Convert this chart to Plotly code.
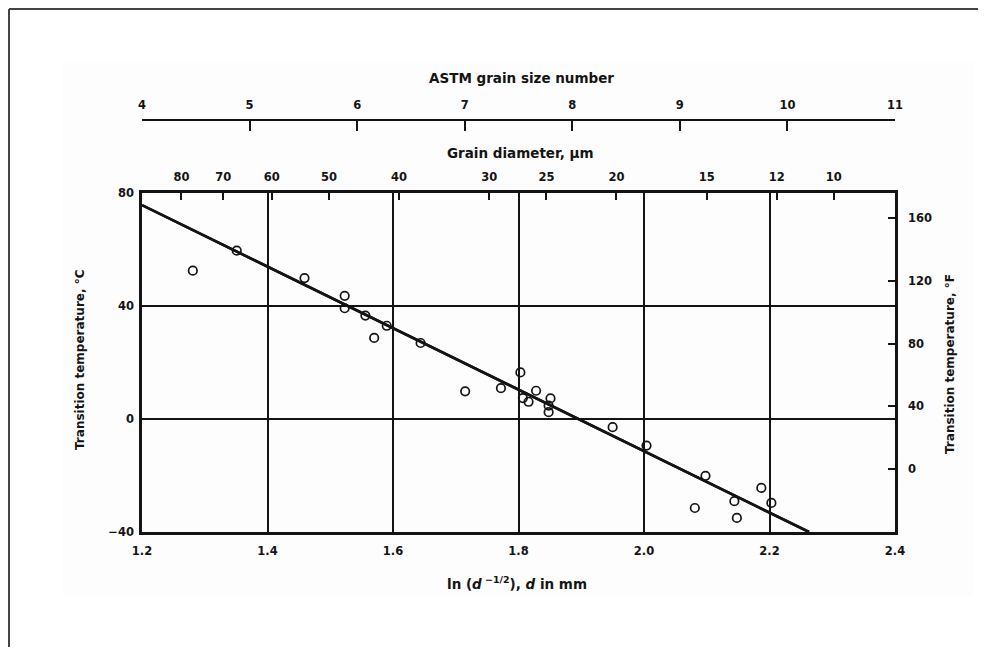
import numpy as np
import plotly.graph_objects as go

# ---- data ----
ln_d = [1.281, 1.351, 1.459, 1.523, 1.523, 1.556, 1.570, 1.590, 1.644, 1.715,
        1.772, 1.803, 1.807, 1.816, 1.828, 1.851, 1.848, 1.848, 1.950, 2.004,
        2.081, 2.098, 2.144, 2.148, 2.187, 2.203]
temp_c = [52.5, 59.6, 49.9, 43.6, 39.2, 36.6, 28.7, 33.0, 26.9, 9.8,
          10.9, 16.5, 7.4, 6.1, 10.0, 7.3, 4.7, 2.4, -2.9, -9.4,
          -31.5, -20.1, -29.1, -35.0, -24.4, -29.7]
fit_x = [1.2, 2.263]
fit_c = [75.7, -40.0]

x_ticks = [1.2, 1.4, 1.6, 1.8, 2.0, 2.2, 2.4]
c_ticks = [-40, 0, 40, 80]
f_ticks = [0, 40, 80, 120, 160]
diam_um = [80, 70, 60, 50, 40, 30, 25, 20, 15, 12, 10]
astm = [4, 5, 6, 7, 8, 9, 10, 11]

c_range = [-40, 80]
f_range = [c * 1.8 + 32 for c in c_range]
diam_pos = [-0.5 * np.log(d / 1000.0) for d in diam_um]
fit_f = [c * 1.8 + 32 for c in fit_c]

FONT = "DejaVu Sans, Liberation Sans, Arial"
INK = "#141414"
tick_font = dict(family=FONT, size=11.5, color=INK, weight=700)
title_font = dict(family=FONT, size=13.5, color=INK, weight=700)
ytitle_font = dict(family=FONT, size=12, color=INK, weight=700)

fig = go.Figure()
fig.add_trace(go.Scatter(x=fit_x, y=fit_c, mode="lines",
                         line=dict(color=INK, width=2.6),
                         showlegend=False, hoverinfo="skip"))
fig.add_trace(go.Scatter(x=ln_d, y=temp_c, mode="markers",
                         marker=dict(symbol="circle-open", size=8.5,
                                     color=INK, line=dict(width=1.7)),
                         showlegend=False))
# same fit line expressed in °F on the secondary axes (keeps them drawn)
fig.add_trace(go.Scatter(x=fit_x, y=fit_f, mode="lines", xaxis="x2", yaxis="y2",
                         line=dict(color=INK, width=2.6),
                         showlegend=False, hoverinfo="skip"))
# empty trace so the ASTM scale is drawn
fig.add_trace(go.Scatter(x=astm, y=[None] * len(astm), mode="markers",
                         xaxis="x3", yaxis="y", showlegend=False,
                         hoverinfo="skip"))

# page body adds an 8px offset; plot area is wanted at x 142..895, y 120..532
OFF = 8
W, H = 970, 639
ml, mt = 142 - OFF, 120 - OFF
mr = OFF + W - 895
mb = OFF + H - 532
PX0, PX1, PY0, PY1 = 142, 895, 120, 532
top_main = (PY1 - 193) / (PY1 - PY0)


def px(x):
    return (x - PX0) / (PX1 - PX0)


def py(y):
    return (PY1 - y) / (PY1 - PY0)


fig.update_layout(
    width=W, height=H,
    margin=dict(l=ml, r=mr, t=mt, b=mb, autoexpand=False),
    paper_bgcolor="white", plot_bgcolor="rgba(0,0,0,0)",
    xaxis=dict(range=[1.2, 2.4], tickvals=x_ticks,
               ticktext=[f"{v:.1f}" for v in x_ticks],
               showgrid=True, gridcolor=INK, gridwidth=2,
               showline=True, linecolor=INK, linewidth=2.6, mirror=True,
               zeroline=False, ticks="", tickfont=tick_font,
               ticklabelstandoff=6),
    yaxis=dict(range=c_range, domain=[0, top_main], tickvals=c_ticks,
               showgrid=True, gridcolor=INK, gridwidth=2,
               showline=True, linecolor=INK, linewidth=2.6, mirror=True,
               zeroline=False, ticks="", tickfont=tick_font,
               ticklabelstandoff=3),
    yaxis2=dict(range=f_range, overlaying="y", side="right", anchor="x",
                tickvals=f_ticks, showgrid=False, zeroline=False,
                ticks="inside", ticklen=7, tickwidth=1.7, tickcolor=INK,
                showline=False, tickfont=tick_font, ticklabelstandoff=12),
    xaxis2=dict(range=[1.2, 2.4], overlaying="x", side="top", anchor="y",
                tickvals=diam_pos, ticktext=[str(d) for d in diam_um],
                showgrid=False, zeroline=False, showline=False,
                ticks="inside", ticklen=7, tickwidth=1.7, tickcolor=INK,
                tickfont=tick_font, ticklabelstandoff=9),
    xaxis3=dict(range=[4, 11], overlaying="x", side="top", anchor="free",
                position=1, tickvals=astm, showgrid=False, zeroline=False,
                showline=True, linecolor=INK, linewidth=2.2,
                ticks="inside", ticklen=10, tickwidth=1.8, tickcolor=INK,
                tickfont=tick_font, ticklabelstandoff=5),
)

titles = [
    ("ASTM grain size number", 521, 78, 0, title_font),
    ("Grain diameter, μm", 520, 153, 0, title_font),
    ("ln (<i>d</i><sup> −1/2</sup>), <i>d</i> in mm", 517, 583, 0, title_font),
    ("Transition temperature, °C", 80, 360, -90, ytitle_font),
    ("Transition temperature, °F", 950, 364, -90, ytitle_font),
]
for text, ax, ay, ang, fnt in titles:
    fig.add_annotation(text=text, xref="paper", yref="paper",
                       x=px(ax), y=py(ay), xanchor="center", yanchor="middle",
                       textangle=ang, showarrow=False, font=fnt)

# very faint scanned-page panel behind the figure
fig.add_shape(type="rect", xref="paper", yref="paper", layer="below",
              x0=px(63), x1=px(973), y0=py(597), y1=py(62),
              fillcolor="#fdfdfd", line=dict(width=0))
# scan frame (top and left edges of the picture)
fig.add_shape(type="line", xref="paper", yref="paper",
              x0=px(9), x1=px(OFF + W), y0=py(9), y1=py(9),
              line=dict(color="#444", width=2))
fig.add_shape(type="line", xref="paper", yref="paper",
              x0=px(9), x1=px(9), y0=py(9), y1=py(OFF + H),
              line=dict(color="#444", width=2))

fig.write_html("out.html")
